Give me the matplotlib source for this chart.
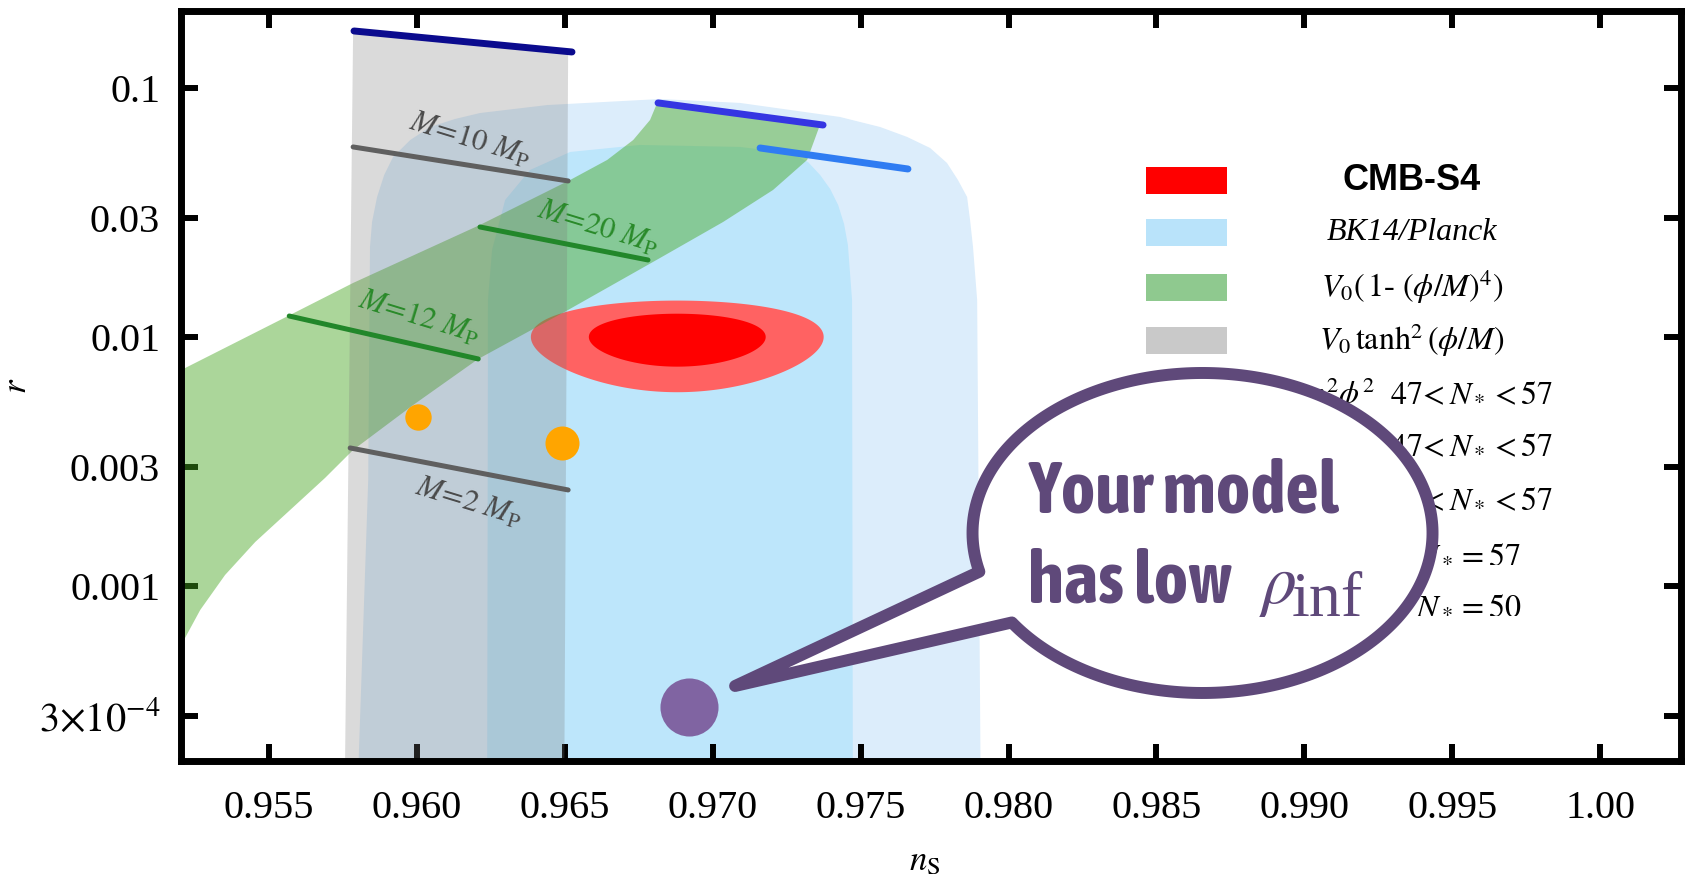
import numpy as np
import matplotlib
matplotlib.use("Agg")
import matplotlib.pyplot as plt
from matplotlib import font_manager
from matplotlib.font_manager import FontProperties
from matplotlib.patches import Rectangle, Polygon
from matplotlib.ticker import NullLocator
from matplotlib.transforms import IdentityTransform

plt.rcParams['font.family'] = ['Liberation Serif', 'DejaVu Serif']
plt.rcParams['mathtext.fontset'] = 'stix'

# BK14/Planck regions (n_s, r), 95% and 68%
bk95_ns = [0.95794, 0.95835, 0.95841, 0.95848, 0.95865, 0.95889, 0.95919, 0.95977, 0.96044,
           0.96129, 0.96213, 0.96440, 0.96822, 0.97092, 0.97430, 0.97566, 0.97657, 0.97735,
           0.97792, 0.97829, 0.97860, 0.97870, 0.97880, 0.97894, 0.97907]
bk95_r = [1e-4, 0.002665, 0.02298, 0.02896, 0.0365, 0.04473, 0.05283, 0.0618, 0.06971,
          0.0751, 0.07933, 0.0854, 0.0903, 0.0871, 0.0765, 0.06971, 0.0636, 0.05741,
          0.04998, 0.04272, 0.0365, 0.02951, 0.02298, 0.01408, 1e-4]
bk68_ns = [0.96237, 0.96240, 0.96254, 0.96298, 0.96382, 0.96518, 0.96754, 0.97092, 0.97261,
           0.97322, 0.97363, 0.97397, 0.97424, 0.97444, 0.97457, 0.97471, 0.97474]
bk68_r = [1e-4, 0.01408, 0.02236, 0.0355, 0.04684, 0.05534, 0.05904, 0.05796, 0.05483,
          0.05043, 0.04473, 0.03930, 0.03389, 0.02843, 0.02341, 0.01408, 1e-4]

# CMB-S4 forecast: centre, half widths (outer, inner)
s4_ns = 0.9688
s4_r = 0.0100
s4_dns = [0.00495, 0.00299]
s4_dr = [0.0040, 0.0024]

# V0 (1 - (phi/M)^4) band, upper edge left->right, lower edge right->left
hill_top_ns = [0.951, 0.95203, 0.95571, 0.95784, 0.96213, 0.96518, 0.96643, 0.96731, 0.96788, 0.96812]
hill_top_r = [0.00641, 0.00737, 0.01226, 0.01648, 0.02818, 0.04272, 0.05139, 0.06180, 0.07438, 0.08704]
hill_bot_ns = [0.97363, 0.97319, 0.97204, 0.97035, 0.96822, 0.96511, 0.96207, 0.95987, 0.95784,
               0.95689, 0.95571, 0.95453, 0.95351, 0.95267, 0.95203, 0.951]
hill_bot_r = [0.0713, 0.05139, 0.03895, 0.02896, 0.02077, 0.01284, 0.00816, 0.00533, 0.003517,
              0.002715, 0.002019, 0.001502, 0.001107, 0.000801, 0.00058, 0.000342]

# V0 tanh^2(phi/M) band
tanh_ns = [0.95754, 0.95784, 0.96511, 0.96497]
tanh_r = [1e-4, 0.1694, 0.1400, 1e-4]

# 47 < N* < 57 segments
seg_ns = [[0.95787, 0.96524], [0.96815, 0.97373], [0.97160, 0.97660]]
seg_r = [[0.1694, 0.1395], [0.0871, 0.0710], [0.05741, 0.04728]]
seg_colors = ['#0b0b8e', '#3535e2', '#2f7cf2']

# lines of constant M
mline_ns = [[0.95784, 0.96511], [0.95774, 0.96511], [0.95568, 0.96207], [0.96213, 0.96781]]
mline_r = [[0.05796, 0.04232], [0.003583, 0.002430], [0.01214, 0.00816], [0.02765, 0.02038]]
mline_colors = ['#5f5f5f', '#5f5f5f', '#22872a', '#22872a']
mlabel_text = [r'$M\!=\!\mathit{10}\ M_{\mathrm{P}}$', r'$M\!=\!\mathit{2}\ M_{\mathrm{P}}$',
               r'$M\!=\!\mathit{12}\ M_{\mathrm{P}}$', r'$M\!=\!\mathit{20}\ M_{\mathrm{P}}$']
mlabel_ns = [0.96180, 0.96176, 0.96007, 0.96612]
mlabel_r = [0.0618, 0.002154, 0.01192, 0.0274]
mlabel_colors = ['#4a4a4a', '#4a4a4a', '#2a8a2a', '#2a8a2a']

# N* = 57 / N* = 50 points
pt_ns = [0.96004, 0.96491]
pt_r = [0.004773, 0.003753]
pt_size = [19, 24.5]

# low energy scale model
model_ns = 0.9692
model_r = 3.266e-4

x_ticks = [0.955, 0.960, 0.965, 0.970, 0.975, 0.980, 0.985, 0.990, 0.995, 1.00]
x_tick_labels = ['0.955', '0.960', '0.965', '0.970', '0.975', '0.980', '0.985', '0.990', '0.995', '1.00']
y_ticks = [3e-4, 1e-3, 3e-3, 1e-2, 3e-2, 1e-1]
y_tick_labels = [r'$3{\times}10^{-4}$', '0.001', '0.003', '0.01', '0.03', '0.1']

legend_labels = ['CMB-S4', 'BK14/Planck', r'$V_0(\,\mathit{1}$- $(\phi/M)^4)$', r'$V_0\,\tanh^2(\phi/M)$']
legend_colors = ['#ff0000', '#b9e3fa', '#8fc98f', '#c9c9c9']
legend_ranges = [r'$\mathit{47}\!<N_*<57$', r'$\mathit{47}\!<N_*<57$', r'$\mathit{47}\!<N_*<57$',
                 r'$N_*=57$', r'$N_*=50$']

fig = plt.figure(figsize=(16.9, 8.86), dpi=100)
ax = fig.add_axes([0.1071, 0.1411, 0.8876, 0.8465])
ax.set_yscale('log')
ax.set_xlim(0.95202, 1.00274)
ax.set_ylim(1.982e-4, 0.2038)
ax.set_axisbelow('line')

# REGIONS
ax.fill(bk95_ns, bk95_r, color='#dcedfb', lw=0, zorder=1)
ax.fill(bk68_ns, bk68_r, color='#bde6fb', lw=0, zorder=1.1)

t = np.linspace(0, 2 * np.pi, 300)
for dns, dr, col in zip(s4_dns, s4_dr, ['#ff6262', '#ff0000']):
    ax.fill(s4_ns + dns * np.cos(t), s4_r + dr * np.sin(t), color=col, lw=0, zorder=1.2)

ax.fill(hill_top_ns + hill_bot_ns, hill_top_r + hill_bot_r, color=(0.27, 0.65, 0.12),
        alpha=0.45, lw=0, zorder=2)
ax.fill(tanh_ns, tanh_r, color='#787878', alpha=0.27, lw=0, zorder=2.1)

# LINES AND POINTS
for xs, ys, col in zip(mline_ns, mline_r, mline_colors):
    ax.plot(xs, ys, color=col, lw=3.6, solid_capstyle='round', zorder=3)
for xs, ys, col in zip(seg_ns, seg_r, seg_colors):
    ax.plot(xs, ys, color=col, lw=5, solid_capstyle='round', zorder=3)
for txt, x, y, col in zip(mlabel_text, mlabel_ns, mlabel_r, mlabel_colors):
    ax.text(x, y, txt, color=col, fontsize=22, rotation=-17, ha='center', va='center', zorder=3)

for x, y, s in zip(pt_ns, pt_r, pt_size):
    ax.plot(x, y, 'o', ms=s, color='#ffa500', mec='none', zorder=4)
ax.plot(model_ns, model_r, 'o', ms=41.8, color='#8064a2', mec='none', zorder=4)

# AXES
ax.set_xticks(x_ticks, x_tick_labels)
ax.set_yticks(y_ticks, y_tick_labels)
ax.yaxis.set_minor_locator(NullLocator())
ax.tick_params(which='both', direction='in', top=True, right=True, length=12, width=4.3,
               labelsize=29)
ax.tick_params(axis='x', pad=21)
ax.tick_params(axis='y', pad=15)
for sp in ax.spines.values():
    sp.set_linewidth(5)
ax.set_xlabel(r'$n_{\mathrm{S}}$', fontsize=25)
ax.xaxis.set_label_coords(0.496, -0.112)
ax.set_ylabel(r'$r$', fontsize=25)
ax.yaxis.set_label_coords(-0.098, 0.5)

# LEGEND
row_y = [0.774, 0.7053, 0.6313, 0.5607, 0.4893, 0.42, 0.348, 0.2747, 0.2067]
for i, (lab, col) in enumerate(zip(legend_labels, legend_colors)):
    ax.add_patch(Rectangle((0.6433, row_y[i] - 0.018), 0.054, 0.036, transform=ax.transAxes,
                           color=col, lw=0, zorder=4))
    if i == 0:
        ax.text(0.8207, row_y[i], lab, transform=ax.transAxes, ha='center', va='center',
                family=['Liberation Sans', 'DejaVu Sans'], weight='bold', fontsize=26, zorder=4)
    else:
        ax.text(0.8207, row_y[i], lab, transform=ax.transAxes, ha='center', va='center',
                style='italic', fontsize=23, zorder=4)
# first model name sits half under the bubble
ax.text(0.796, row_y[4], r'$m^2\phi^2$', transform=ax.transAxes, ha='right', va='center',
        fontsize=23, zorder=4)
for i, rng in enumerate(legend_ranges):
    ax.text(0.9147 if i < 3 else 0.8933, row_y[4 + i], rng, transform=ax.transAxes,
            ha='right', va='center', fontsize=23, zorder=4)

# SPEECH BUBBLE
cx, cy = ax.transAxes.transform((0.6810, 0.3040))
th = np.radians(np.linspace(214, 554, 300))
tip = ax.transData.transform((model_ns, model_r)) + np.array([46, 21])
bx = np.r_[cx + 230 * np.cos(th), tip[0]]
by = np.r_[cy + 160 * np.sin(th), tip[1]]
bubble = Polygon(np.column_stack([bx, by]), closed=True, transform=IdentityTransform(),
                 facecolor='white', edgecolor='#5f497a', lw=8.6, joinstyle='round',
                 zorder=8, clip_on=False)
ax.add_patch(bubble)

# narrow bold face for the bubble text, if one is installed
narrow = [f for f in font_manager.fontManager.ttflist
          if f.weight in (600, 700, 800, 'bold') and f.style == 'normal'
          and ('Narrow' in f.name or 'Condensed' in f.name or f.stretch in ('condensed', 'semi-condensed'))]
narrow.sort(key=lambda f: ('Liberation' not in f.name, 'Extra' in f.name, f.weight != 700, f.name))
if narrow:
    bubble_prop = FontProperties(fname=narrow[0].fname, size=53)
else:
    bubble_prop = FontProperties(family=['Roboto', 'DejaVu Sans'], weight='bold', size=43)

purple = '#5f497a'
ax.text(0.5647, 0.3307, 'Your model', transform=ax.transAxes, ha='left', va='baseline',
        fontproperties=bubble_prop, color=purple, zorder=9)
ax.text(0.5647, 0.2107, 'has low', transform=ax.transAxes, ha='left', va='baseline',
        fontproperties=bubble_prop, color=purple, zorder=9)
ax.text(0.7187, 0.2107, r'$\rho$', transform=ax.transAxes, ha='left', va='baseline',
        fontsize=50, color=purple, zorder=9)
ax.text(0.7407, 0.1934, 'inf', transform=ax.transAxes, ha='left', va='baseline',
        fontsize=46, color=purple, zorder=9)

fig.savefig('out.png', dpi=100)
